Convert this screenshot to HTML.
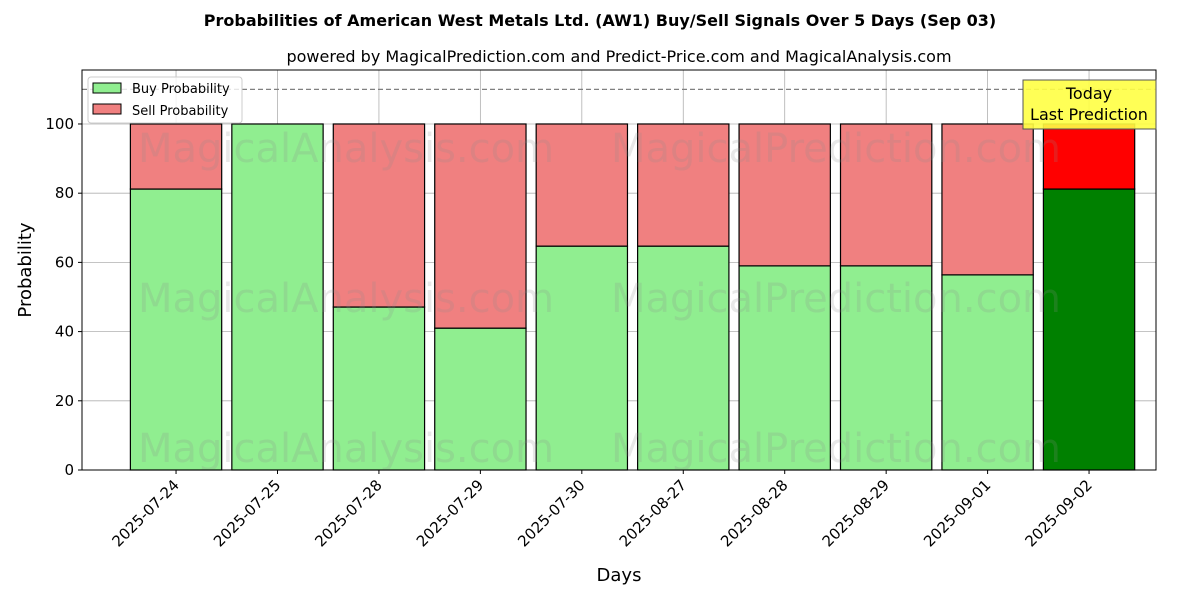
<!DOCTYPE html>
<html><head><meta charset="utf-8"><style>
body{margin:0;background:#fff;font-family:"Liberation Sans","DejaVu Sans",sans-serif}
</style></head><body>
<svg id="chart" width="1200" height="600" xmlns="http://www.w3.org/2000/svg" font-family="DejaVu Sans, Liberation Sans, sans-serif">
<rect width="1200" height="600" fill="#fff"/>
<text x="600" y="26" text-anchor="middle" font-size="16" font-weight="bold">Probabilities of American West Metals Ltd. (AW1) Buy/Sell Signals Over 5 Days (Sep 03)</text>
<text x="619" y="62" text-anchor="middle" font-size="16">powered by MagicalPrediction.com and Predict-Price.com and MagicalAnalysis.com</text>
<g id="grid"></g>
<g id="marks"></g>
<g id="wm" font-size="40" fill="#8c8c8c" fill-opacity="0.2">
<text x="346" y="162" text-anchor="middle">MagicalAnalysis.com</text>
<text x="836" y="162" text-anchor="middle">MagicalPrediction.com</text>
<text x="346" y="312" text-anchor="middle">MagicalAnalysis.com</text>
<text x="836" y="312" text-anchor="middle">MagicalPrediction.com</text>
<text x="346" y="462" text-anchor="middle">MagicalAnalysis.com</text>
<text x="836" y="462" text-anchor="middle">MagicalPrediction.com</text>
</g>
<line x1="82" x2="1156" y1="89.4" y2="89.4" stroke="#808080" stroke-width="1.2" stroke-dasharray="5,3"/>
<rect x="82" y="70" width="1074" height="400" fill="none" stroke="#000" stroke-width="1"/>
<g id="axes"></g>
<g>
<rect x="1023" y="80" width="133" height="49" fill="#ffff44" fill-opacity="0.9" stroke="#555"/>
<text x="1089" y="99" text-anchor="middle" font-size="16">Today</text>
<text x="1089" y="120" text-anchor="middle" font-size="16">Last Prediction</text>
</g>
<g>
<rect x="88" y="77" width="154" height="46" fill="#fff" fill-opacity="0.8" stroke="#ccc" rx="3"/>
<rect x="93" y="83" width="28" height="10" fill="#90ee90" stroke="#000"/>
<text x="132" y="93" font-size="13">Buy Probability</text>
<rect x="93" y="104" width="28" height="10" fill="#f08080" stroke="#000"/>
<text x="132" y="115" font-size="13">Sell Probability</text>
</g>
<text x="619" y="581" text-anchor="middle" font-size="18">Days</text>
<text transform="translate(31,270) rotate(-90)" text-anchor="middle" font-size="18">Probability</text>
</svg>
<script>
const categories=["2025-07-24","2025-07-25","2025-07-28","2025-07-29","2025-07-30","2025-08-27","2025-08-28","2025-08-29","2025-09-01","2025-09-02"];
const buyValues=[81.2,100,47.1,41.0,64.7,64.7,59.0,59.0,56.4,81.2];
const yTicks=[0,20,40,60,80,100];
const NS="http://www.w3.org/2000/svg";
const X0=82,X1=1156,Y0=470,Y1=70,xmin=-0.927,xmax=9.66,ymax=115.6;
const xs=i=>X0+(i-xmin)/(xmax-xmin)*(X1-X0);
const ys=v=>Y0-v/ymax*(Y0-Y1);
function mk(t,a,p){const e=document.createElementNS(NS,t);for(const k in a)e.setAttribute(k,a[k]);p.appendChild(e);return e;}
const grid=document.getElementById('grid'),marks=document.getElementById('marks'),axes=document.getElementById('axes');
yTicks.forEach(v=>{
 const g=mk('line',{x1:X0,x2:X1,y1:ys(v),y2:ys(v),stroke:'#b0b0b0','stroke-width':0.8},grid);
 
 
 mk('line',{x1:X0-4,x2:X0,y1:ys(v),y2:ys(v),stroke:'#000'},axes);
 const t=mk('text',{x:X0-8,y:ys(v)+5,'text-anchor':'end','font-size':15},axes);t.textContent=v;
 
 
});
const w=0.9*(X1-X0)/(xmax-xmin);
categories.forEach((c,i)=>{
 const cx=xs(i);
 const gl=mk('line',{x1:cx,x2:cx,y1:Y1,y2:Y0,stroke:'#b0b0b0','stroke-width':0.8},grid);
 
 
 const last=i===categories.length-1;
 const b=buyValues[i];
 const rb=mk('rect',{x:cx-w/2,y:ys(b),width:w,height:ys(0)-ys(b),fill:last?'#008000':'#90ee90',stroke:'#000','stroke-width':1.2},marks);
 
 
 const rs=mk('rect',{x:cx-w/2,y:ys(100),width:w,height:ys(b)-ys(100),fill:last?'#ff0000':'#f08080',stroke:'#000','stroke-width':1.2},marks);
 
 
 mk('line',{x1:cx,x2:cx,y1:Y0,y2:Y0+4,stroke:'#000'},axes);
 const t=mk('text',{x:cx+4,y:Y0+16,'text-anchor':'end','font-size':15,transform:`rotate(-45 ${cx+4} ${Y0+16})`},axes);t.textContent=c;
 
 
});
</script>
</body></html>
